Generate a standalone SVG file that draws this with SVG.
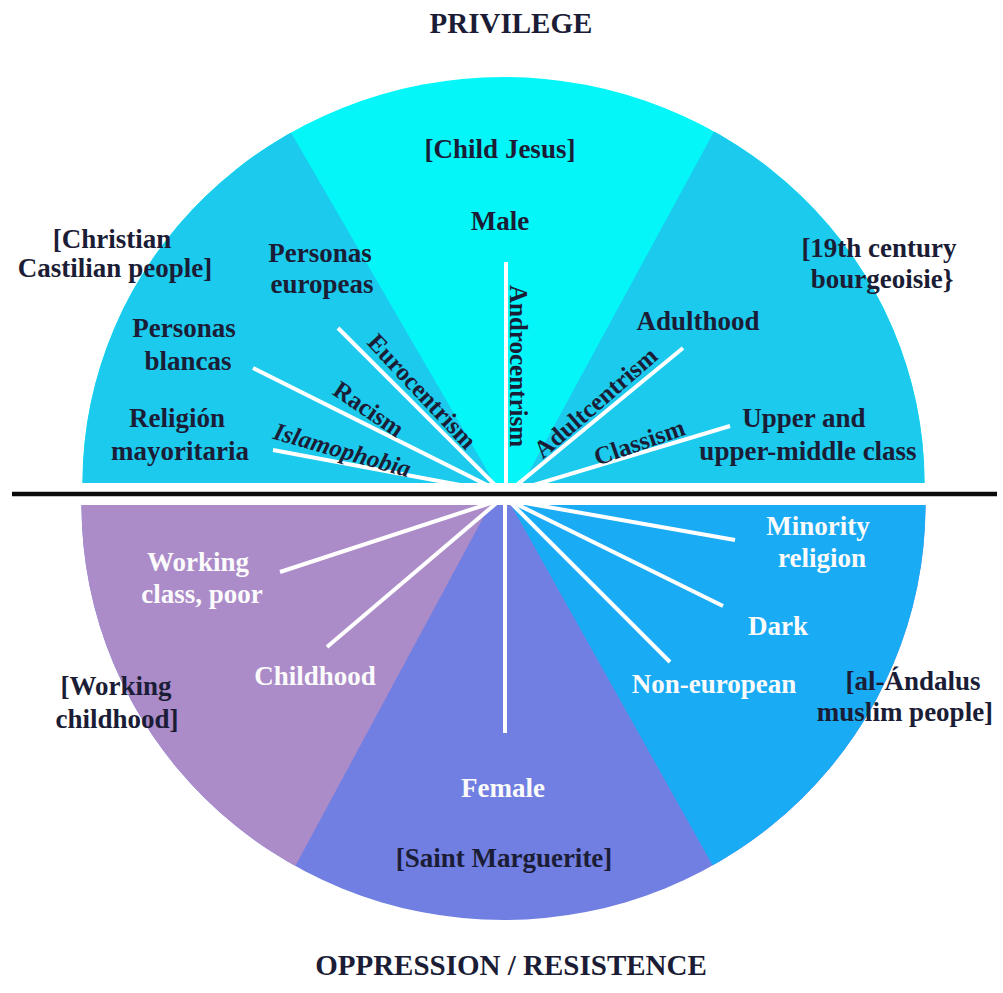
<svg xmlns="http://www.w3.org/2000/svg" width="1003" height="993" viewBox="0 0 1003 993">
  <style>
    text { font-family: "Liberation Serif", "Times New Roman", serif; font-weight: bold; }
    .lbl { font-size: 27px; fill: #1b1d36; text-anchor: middle; }
    .inv { font-size: 27px; fill: #fbfbfb; text-anchor: middle; }
    .rot { font-size: 25px; fill: #1b1d36; text-anchor: middle; }
    .title { font-size: 29px; fill: #1b1d36; text-anchor: middle; }
    .spoke { stroke: #ffffff; stroke-width: 4; stroke-linecap: butt; fill: none; }
  </style>
  <defs>
    <!-- upper half-disc (privilege) -->
    <clipPath id="clipTop">
      <path d="M82.5,483 A421,406 0 0 1 924.5,483 Z"/>
    </clipPath>
    <!-- lower half-disc (oppression / resistance) -->
    <clipPath id="clipBottom">
      <path d="M81.5,505 A422,415 0 0 0 925.5,505 Z"/>
    </clipPath>
  </defs>

  <rect width="1003" height="993" fill="#ffffff"/>

  <!-- upper sectors -->
  <g clip-path="url(#clipTop)">
    <g id="sector-child-jesus">
      <rect x="0" y="0" width="1003" height="500" fill="#04f6f8"/>
    </g>
    <g id="sector-christian-castilian">
      <polygon points="507,505 156,-100 0,-100 0,505" fill="#1bcaec"/>
    </g>
    <g id="sector-bourgeoisie">
      <polygon points="511,505 840,-100 1003,-100 1003,505" fill="#1bcaec"/>
    </g>
  </g>

  <!-- lower sectors -->
  <g clip-path="url(#clipBottom)">
    <g id="sector-saint-marguerite">
      <rect x="0" y="500" width="1003" height="493" fill="#717fe2"/>
    </g>
    <g id="sector-working-childhood">
      <polygon points="490,505 223,1000 0,1000 0,505" fill="#ac8bc9"/>
    </g>
    <g id="sector-al-andalus">
      <polygon points="511,505 788,1000 1003,1000 1003,505" fill="#1aabf5"/>
    </g>
  </g>

  <!-- spokes -->
  <g id="connectors">
    <g clip-path="url(#clipTop)">
      <line class="spoke" x1="506" y1="262" x2="506" y2="490"/>
      <line class="spoke" x1="338" y1="328" x2="503" y2="493"/>
      <line class="spoke" x1="253" y1="368" x2="503" y2="493"/>
      <line class="spoke" x1="273" y1="450" x2="503" y2="493"/>
      <line class="spoke" x1="683" y1="348" x2="507" y2="493"/>
      <line class="spoke" x1="730" y1="426" x2="507" y2="493"/>
    </g>
    <g clip-path="url(#clipBottom)">
      <line class="spoke" x1="505" y1="500" x2="505" y2="733"/>
      <line class="spoke" x1="280" y1="572" x2="500" y2="500"/>
      <line class="spoke" x1="327" y1="647" x2="500" y2="500"/>
      <line class="spoke" x1="735" y1="540" x2="508" y2="500"/>
      <line class="spoke" x1="723" y1="606" x2="508" y2="500"/>
      <line class="spoke" x1="670" y1="662" x2="508" y2="500"/>
    </g>
    <!-- dividing axis -->
    <line x1="12" y1="494" x2="997" y2="494" stroke="#0a0a0a" stroke-width="4.5"/>
  </g>

  <!-- titles -->
  <g id="title-privilege"><text class="title" x="511" y="33">PRIVILEGE</text></g>
  <g id="title-oppression"><text class="title" x="511" y="975">OPPRESSION / RESISTENCE</text></g>

  <!-- upper labels -->
  <g id="label-child-jesus"><text class="lbl" x="500" y="158">[Child Jesus]</text></g>
  <g id="label-male"><text class="lbl" x="500" y="230">Male</text></g>
  <g id="label-christian">
    <text class="lbl" x="112" y="248">[Christian</text>
    <text class="lbl" x="115" y="277">Castilian people]</text>
  </g>
  <g id="label-europeas">
    <text class="lbl" x="320" y="262">Personas</text>
    <text class="lbl" x="322" y="293">europeas</text>
  </g>
  <g id="label-blancas">
    <text class="lbl" x="184" y="337">Personas</text>
    <text class="lbl" x="188" y="370">blancas</text>
  </g>
  <g id="label-religion">
    <text class="lbl" x="177" y="427">Religión</text>
    <text class="lbl" x="180" y="460">mayoritaria</text>
  </g>
  <g id="label-bourgeoisie">
    <text class="lbl" x="879" y="257">[19th century</text>
    <text class="lbl" x="882" y="288">bourgeoisie}</text>
  </g>
  <g id="label-adulthood"><text class="lbl" x="698" y="330">Adulthood</text></g>
  <g id="label-upper-class">
    <text class="lbl" x="804" y="427">Upper and</text>
    <text class="lbl" x="808" y="460">upper-middle class</text>
  </g>

  <!-- labels along spokes -->
  <g id="label-eurocentrism"><text class="rot" transform="translate(416,397) rotate(47)">Eurocentrism</text></g>
  <g id="label-racism"><text class="rot" transform="translate(364,416) rotate(34)">Racism</text></g>
  <g id="label-islamophobia"><text class="rot" font-style="italic" transform="translate(340,458) rotate(16)">Islamophobia</text></g>
  <g id="label-androcentrism"><text class="rot" transform="translate(510,366) rotate(90)">Androcentrism</text></g>
  <g id="label-adultcentrism"><text class="rot" transform="translate(601,409) rotate(-41)">Adultcentrism</text></g>
  <g id="label-classism"><text class="rot" transform="translate(642,450) rotate(-19.4)">Classism</text></g>

  <!-- lower labels -->
  <g id="label-working-class">
    <text class="inv" x="198" y="571">Working</text>
    <text class="inv" x="202" y="603">class, poor</text>
  </g>
  <g id="label-childhood"><text class="inv" x="315" y="685">Childhood</text></g>
  <g id="label-working-childhood">
    <text class="lbl" x="116" y="695">[Working</text>
    <text class="lbl" x="117" y="728">childhood]</text>
  </g>
  <g id="label-female"><text class="inv" x="503" y="797">Female</text></g>
  <g id="label-saint-marguerite"><text class="lbl" x="504" y="867">[Saint Marguerite]</text></g>
  <g id="label-minority">
    <text class="inv" x="818" y="535">Minority</text>
    <text class="inv" x="822" y="567">religion</text>
  </g>
  <g id="label-dark"><text class="inv" x="778" y="635">Dark</text></g>
  <g id="label-non-european"><text class="inv" x="714" y="693">Non-european</text></g>
  <g id="label-al-andalus">
    <text class="lbl" x="913" y="690">[al-Ándalus</text>
    <text class="lbl" x="905" y="721">muslim people]</text>
  </g>
</svg>
